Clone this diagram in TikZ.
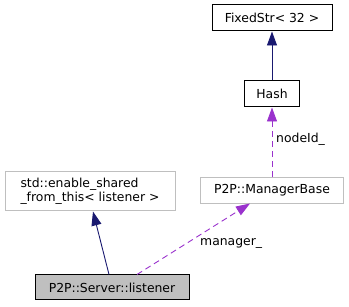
\documentclass[tikz,border=0pt]{standalone}
\usepackage{fontspec}
\setmainfont{DejaVu Sans}
\usetikzlibrary{arrows.meta}
\definecolor{edgenavy}{HTML}{191970}
\definecolor{edgeorchid}{HTML}{9A32CD}
\definecolor{boxgray}{HTML}{BFBFBF}
\begin{document}
\begin{tikzpicture}[x=1pt,y=-1pt,
  every node/.style={font=\fontsize{12.4}{14}\selectfont, inner sep=0pt},
  classbox/.style={draw=black, line width=1pt, fill=white},
  extbox/.style={draw=boxgray, line width=1pt, fill=white},
  curbox/.style={draw=black, line width=1pt, fill=boxgray},
  inherit/.style={draw=edgenavy, line width=0.9pt, -{Triangle[length=14pt,width=10pt]}},
  usage/.style={draw=edgeorchid, line width=0.9pt, dash pattern=on 6pt off 4pt,
    -{Triangle[length=14pt,width=10pt,fill=edgeorchid]}},
  edgelabel/.style={anchor=west}]
  \useasboundingbox (0,0) rectangle (349,307);

  % classes
  \node[classbox, minimum width=120, minimum height=26] (fixed) at (272,18) {FixedStr< 32 >};
  \node[classbox, minimum width=55, minimum height=26] (hash) at (272,94) {Hash};
  \node[extbox, minimum width=143, minimum height=26] (mgr) at (272,190.5) {P2P::ManagerBase};
  \node[extbox, minimum width=170, minimum height=39, align=left] (shared) at (90,191.5)
    {std::enable\_shared\\\_from\_this< listener >};
  \node[curbox, minimum width=154, minimum height=25] (listener) at (112,287.5) {P2P::Server::listener};

  % relations
  \draw[inherit] (hash.north) -- (fixed.south);
  \draw[usage] (mgr.north) -- (hash.south);
  \draw[inherit] (listener.north -| 109,0) -- (shared.south -| 93,0);
  \draw[usage] (listener.north -| 137,0) -- (250,203.5);

  % edge labels
  \node[edgelabel] (nlabel) at (276,139) {nodeId\_};
  \node[edgelabel] (mlabel) at (200,243) {manager\_};
\end{tikzpicture}
\end{document}
